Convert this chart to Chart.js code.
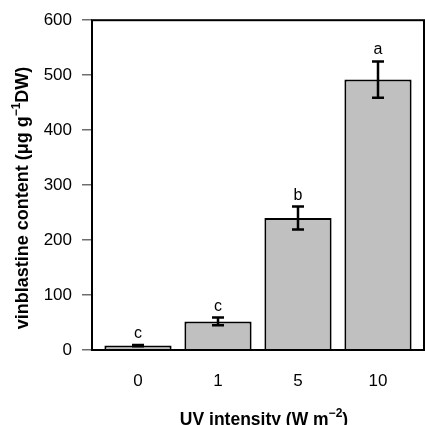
<!DOCTYPE html>
<html>
<head>
<meta charset="utf-8">
<script src="https://cdn.jsdelivr.net/npm/chart.js@4.4.1/dist/chart.umd.min.js"></script>
<style>
  body { margin: 0; background: #fff; }
  #wrap { width: 425px; height: 425px; }
</style>
</head>
<body>
<div id="wrap"><canvas id="uv-chart" width="425" height="425"></canvas></div>
<script>
// Chart data
const categories = ["0", "1", "5", "10"];
const contentValues = [8, 52, 240, 492];
const errorValues = [1, 7, 21, 33];
const groupLetters = ["c", "c", "b", "a"];
const yTickValues = [0, 100, 200, 300, 400, 500, 600];

const fontFamily = "'Liberation Sans', Arial, Helvetica, sans-serif";
const barFill = "#c0c0c0";

// Draw bold text with superscript pieces, centred on x, baseline y
const drawRich = function(ctx, parts, x, y, size) {
	let total = 0;
	parts.forEach(function(p) {
		ctx.font = "bold " + (p.sup ? 12 : size) + "px " + fontFamily;
		p.w = ctx.measureText(p.text).width;
		total += p.w;
	});
	let cx = x - total / 2;
	ctx.textAlign = "left";
	ctx.textBaseline = "alphabetic";
	parts.forEach(function(p) {
		ctx.font = "bold " + (p.sup ? 12 : size) + "px " + fontFamily;
		ctx.fillText(p.text, cx, p.sup ? y - 8 : y);
		cx += p.w;
	});
};

// Frame, error bars, letters and axis titles
const extrasPlugin = {
	id: "extras",
	afterDatasetsDraw: function(chart) {
		const ctx = chart.ctx;
		const xs = chart.scales.x;
		const ys = chart.scales.y;
		const area = chart.chartArea;
		ctx.save();
		ctx.strokeStyle = "#000";
		ctx.lineWidth = 2.5;
		contentValues.forEach(function(v, i) {
			const px = xs.getPixelForValue(i);
			const top = ys.getPixelForValue(v + errorValues[i]);
			const bot = ys.getPixelForValue(v - errorValues[i]);
			ctx.beginPath();
			ctx.moveTo(px, top);
			ctx.lineTo(px, bot);
			ctx.moveTo(px - 6, top);
			ctx.lineTo(px + 6, top);
			ctx.moveTo(px - 6, bot);
			ctx.lineTo(px + 6, bot);
			ctx.stroke();
			ctx.fillStyle = "#000";
			ctx.font = "16px " + fontFamily;
			ctx.textAlign = "center";
			ctx.textBaseline = "alphabetic";
			ctx.fillText(groupLetters[i], px, top - 7);
		});
		// plot frame
		ctx.lineWidth = 2;
		ctx.strokeRect(area.left, area.top, area.right - area.left, area.bottom - area.top);
		// axis titles
		ctx.fillStyle = "#000";
		drawRich(ctx, [
			{ text: "UV intensity (W m" },
			{ text: "\u22122", sup: true },
			{ text: ")" }
		], 264, 425, 17.5);
		ctx.translate(28, 198);
		ctx.rotate(-Math.PI / 2);
		drawRich(ctx, [
			{ text: "vinblastine content (\u03bcg g" },
			{ text: "\u22121", sup: true },
			{ text: "DW)" }
		], 0, 0, 18);
		ctx.restore();
	}
};

const chartData = {
	datasets: [{
		data: contentValues.map(function(v, i) { return { x: i, y: v }; }),
		backgroundColor: barFill,
		borderColor: "#000",
		borderWidth: 2,
		borderSkipped: "start",
		categoryPercentage: 1,
		barPercentage: 0.84
	}]
};

const chartOptions = {
	responsive: false,
	animation: false,
	layout: { padding: { top: 18, right: 1, bottom: 0, left: 0 } },
	plugins: { legend: { display: false }, tooltip: { enabled: false } },
	scales: {
		x: {
			type: "linear",
			offset: false,
			min: -0.575,
			max: 3.575,
			afterBuildTicks: function(scale) {
				scale.ticks = categories.map(function(c, i) { return { value: i }; });
			},
			afterFit: function(scale) { scale.height = 75; },
			grid: { display: false, drawTicks: false, offset: false },
			border: { display: false },
			ticks: {
				padding: 21,
				color: "#000",
				font: { family: fontFamily, size: 17 },
				callback: function(v) { return categories[v]; }
			}
		},
		y: {
			min: 0,
			max: 600,
			afterBuildTicks: function(scale) {
				scale.ticks = yTickValues.map(function(v) { return { value: v }; });
			},
			afterFit: function(scale) { scale.width = 92; },
			grid: { drawOnChartArea: false, drawTicks: true, tickLength: 10, color: "#6e6e6e", lineWidth: 1.5 },
			border: { display: false },
			ticks: {
				padding: 10,
				color: "#000",
				font: { family: fontFamily, size: 17 }
			}
		}
	}
};

new Chart(document.getElementById("uv-chart"), {
	type: "bar",
	data: chartData,
	options: chartOptions,
	plugins: [extrasPlugin]
});
</script>
</body>
</html>
